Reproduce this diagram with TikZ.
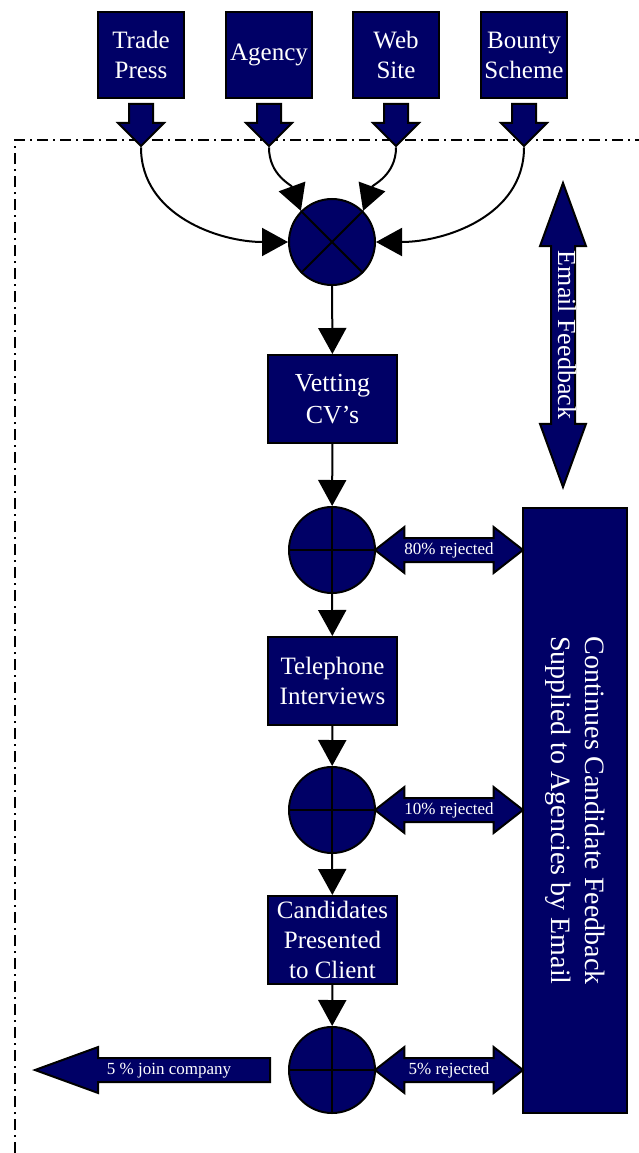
\documentclass[tikz,border=0pt]{standalone}
\usepackage{fontspec}
\setmainfont{Liberation Serif}
\usetikzlibrary{arrows.meta}
\usetikzlibrary{shapes.arrows}

\definecolor{cvnavy}{RGB}{0,0,102}

\tikzset{
  cvshape/.style={draw=black, fill=cvnavy, line width=2pt, text=white},
  srcbox/.style={cvshape, minimum width=86pt, minimum height=86pt, inner sep=0pt, align=center, font=\fontsize{25}{30}\selectfont},
  stagebox/.style={cvshape, minimum width=129pt, minimum height=88pt, inner sep=0pt, align=center, font=\fontsize{25}{30}\selectfont},
  gate/.style={cvshape, circle, minimum size=86pt, inner sep=0pt},
  srcarrow/.style={cvshape, single arrow, rotate=-90, minimum height=42pt, minimum width=0pt, inner xsep=0pt, inner ysep=11pt, single arrow head extend=11pt, single arrow tip angle=90},
  rejarrow/.style={cvshape, double arrow, minimum height=148pt, minimum width=0pt, inner xsep=2pt, inner ysep=5pt, text height=10pt, text depth=2pt, double arrow head extend=11pt, double arrow tip angle=76, font=\fontsize{17}{19}\selectfont},
  flow/.style={line width=2pt, -{Triangle[width=28pt,length=26pt]}},
}

\begin{document}
\begin{tikzpicture}[x=1pt, y=-1pt]
\useasboundingbox (0,0) rectangle (639,1153);
% frame
\draw[line width=2pt, dash pattern=on 11pt off 5pt on 2pt off 5pt] (15,1153) -- (15,140) -- (639,140);

% sources
\node[srcbox] (tp) at (141,55) {Trade\\Press};
\node[srcbox] (ag) at (269,55) {Agency};
\node[srcbox] (ws) at (396,55) {Web\\Site};
\node[srcbox] (bs) at (524,55) {Bounty\\Scheme};
\foreach \s/\x in {tp/141, ag/269, ws/396, bs/524} {
  \node[srcarrow] (\s a) at (\x,119) {};
}

% mixing
\node[gate] (mix) at (332,242) {};
\draw[line width=2pt] (mix.45) -- (mix.225);
\draw[line width=2pt] (mix.135) -- (mix.-45);
\draw[flow] (tpa.tip) to[out=-90, in=180] (mix.west);
\draw[flow] (aga.tip) to[out=-90, in=110] (mix.135);
\draw[flow] (wsa.tip) to[out=-90, in=70] (mix.45);
\draw[flow] (bsa.tip) to[out=-90, in=0] (mix.east);

% stages
\node[stagebox, font=\fontsize{26}{32}\selectfont] (vet) at (332.5,399) {Vetting\\CV’s};
\node[gate] (gvet) at (332,550) {};
\node[stagebox] (tel) at (332.5,681) {Telephone\\Interviews};
\node[gate] (gtel) at (332,810) {};
\node[stagebox] (cand) at (332.5,940) {Candidates\\Presented\\to Client};
\node[gate] (gcand) at (332,1070) {};
\foreach \g in {gvet, gtel, gcand} {
  \draw[line width=2pt] (\g.north) -- (\g.south);
  \draw[line width=2pt] (\g.west) -- (\g.east);
}
\draw[flow] (mix) -- (vet);
\draw[flow] (vet) -- (gvet);
\draw[flow] (gvet) -- (tel);
\draw[flow] (tel) -- (gtel);
\draw[flow] (gtel) -- (cand);
\draw[flow] (cand) -- (gcand);

% feedback
\node[cvshape, rotate=-90, minimum width=605pt, minimum height=104pt, inner sep=0pt, align=center, font=\fontsize{28}{34}\selectfont] (fb) at (575,810.5) {Continues Candidate Feedback\\Supplied to Agencies by Email};
\node[rejarrow] (r80) at (449,550) {80\% rejected};
\node[rejarrow] (r10) at (449,810) {10\% rejected};
\node[rejarrow] (r5) at (449,1070) {5\% rejected};
\node[cvshape, double arrow, rotate=-90, minimum height=304pt, minimum width=0pt, inner xsep=2pt, inner ysep=2pt, text height=14pt, text depth=4pt, double arrow head extend=11pt, double arrow tip angle=40, font=\fontsize{26}{30}\selectfont] (mail) at (563,335) {Email Feedback};
\node[cvshape, single arrow, shape border rotate=180, minimum height=235pt, minimum width=0pt, inner xsep=2pt, inner ysep=5pt, text height=10pt, text depth=2pt, single arrow head extend=11pt, single arrow tip angle=40, font=\fontsize{17}{19}\selectfont] (join) at (169,1070) {5 \% join company};
\end{tikzpicture}
\end{document}
